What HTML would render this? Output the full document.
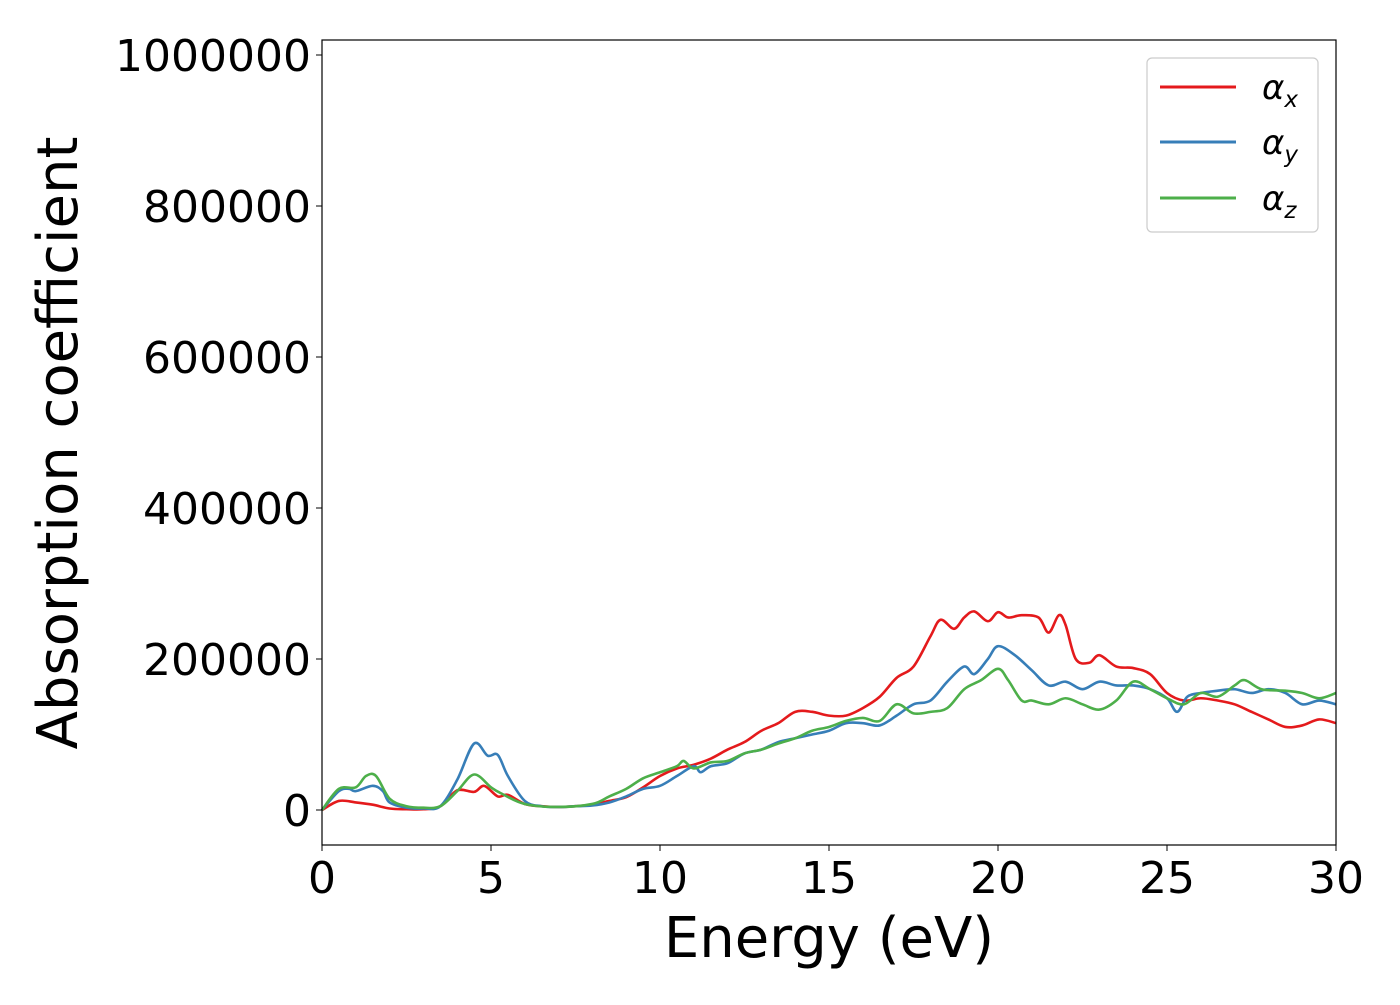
<!DOCTYPE html>
<html><head><meta charset="utf-8"><style>
body{margin:0;background:#fff;}
svg text{font-family:"DejaVu Sans","Liberation Sans",sans-serif;fill:#000;}
</style></head><body>
<svg width="1400" height="1000" id="chart">
<rect width="1400" height="1000" fill="#fff"/>
<g id="series"></g>
<rect x="322" y="40" width="1014" height="805" fill="none" stroke="#000" stroke-width="1.2"/>
<g id="xticks"></g>
<g id="yticks"></g>
<text x="829" y="957" font-size="56" text-anchor="middle">Energy (eV)</text>
<text transform="translate(77,443) rotate(-90)" font-size="56" text-anchor="middle">Absorption coefficient</text>
<g>
<rect x="1147" y="58" width="171" height="174" rx="5" fill="#fff" stroke="#ccc" stroke-width="1.2"/>
<g><line x1="1160" x2="1236" y1="87" y2="87" stroke="#e41a1c" stroke-width="3"/><text x="1262" y="99" font-size="34" font-style="italic">α<tspan font-size="23" dy="8">x</tspan></text></g>
<g><line x1="1160" x2="1236" y1="142" y2="142" stroke="#377eb8" stroke-width="3"/><text x="1262" y="154" font-size="34" font-style="italic">α<tspan font-size="23" dy="8">y</tspan></text></g>
<g><line x1="1160" x2="1236" y1="198" y2="198" stroke="#4daf4a" stroke-width="3"/><text x="1262" y="210" font-size="34" font-style="italic">α<tspan font-size="23" dy="8">z</tspan></text></g>
</g>
</svg>
<script>
const xTicks=[0,5,10,15,20,25,30];
const yTicks=[0,200000,400000,600000,800000,1000000];
const redE=[0,0.5,1,1.5,2,2.5,3,3.5,4,4.5,4.8,5.2,5.5,6,6.5,7,7.5,8,8.5,9,9.5,10,10.5,11,11.5,12,12.5,13,13.5,14,14.5,15,15.5,16,16.5,17,17.5,18,18.3,18.7,19,19.3,19.7,20,20.3,20.7,21.2,21.5,21.8,22,22.3,22.7,23,23.5,24,24.5,25,25.5,26,26.5,27,27.5,28,28.5,29,29.5,30];
const redV=[0,12,10,7,2,1,1,5,26,24,32,18,20,8,5,4,5,7,12,17,30,45,55,60,68,80,90,105,115,130,130,125,125,135,150,175,190,230,252,240,255,263,250,262,255,258,255,235,258,245,200,195,205,190,188,180,155,145,148,145,140,130,120,110,112,120,115];
const blueE=[0,0.5,0.8,1,1.5,1.8,2,2.5,3,3.5,4,4.5,4.9,5.2,5.5,6,6.5,7,7.5,8,8.5,9,9.5,10,10.5,11,11.2,11.5,12,12.5,13,13.5,14,14.5,15,15.5,16,16.5,17,17.5,18,18.5,19,19.3,19.7,20,20.5,21,21.5,22,22.5,23,23.5,24,24.5,25,25.3,25.6,26,26.5,27,27.5,28,28.5,29,29.5,30];
const blueV=[0,25,28,25,32,25,10,3,2,5,40,88,72,73,45,12,5,4,5,6,10,18,28,32,45,58,50,58,62,75,80,90,95,100,105,115,115,112,125,140,145,170,190,180,200,217,205,185,165,170,160,170,165,165,160,148,130,150,155,158,160,155,160,155,140,145,140];
const greenE=[0,0.5,1,1.3,1.6,2,2.5,3,3.5,4,4.5,5,5.3,6,7,8,8.5,9,9.5,10,10.5,10.7,11,11.5,12,12.5,13,13.5,14,14.5,15,15.5,16,16.5,17,17.5,18,18.5,19,19.5,20,20.3,20.7,21,21.5,22,22.5,23,23.5,24,24.5,25,25.5,26,26.5,27,27.3,27.8,28.5,29,29.5,30];
const greenV=[0,28,30,45,45,15,5,3,5,25,47,30,22,8,4,8,18,28,42,50,58,65,55,63,65,75,80,88,95,105,110,118,122,118,140,128,130,135,160,172,187,172,145,145,140,148,140,133,145,170,160,148,140,155,150,165,172,160,158,155,148,155];
const X=e=>322+e*(1014/30);
const Y=v=>810-v*(151/200000);
const NS='http://www.w3.org/2000/svg';
function path(E,V){let p=E.map((e,i)=>[X(e),Y(V[i]*1000)]);let d='M'+p[0][0]+','+p[0][1];
for(let i=0;i<p.length-1;i++){const p0=p[i-1]||p[i],p1=p[i],p2=p[i+1],p3=p[i+2]||p2;
d+=' C'+(p1[0]+(p2[0]-p0[0])/6)+','+(p1[1]+(p2[1]-p0[1])/6)+' '+(p2[0]-(p3[0]-p1[0])/6)+','+(p2[1]-(p3[1]-p1[1])/6)+' '+p2[0]+','+p2[1];}return d;}
const g=document.getElementById('series');
[[redE,redV,'#e41a1c','alpha-x-line'],[blueE,blueV,'#377eb8','alpha-y-line'],[greenE,greenV,'#4daf4a','alpha-z-line']].forEach(s=>{
const el=document.createElementNS(NS,'path');el.setAttribute('d',path(s[0],s[1]));el.setAttribute('fill','none');el.setAttribute('stroke',s[2]);el.setAttribute('stroke-width','2.6');


g.appendChild(el);});
const xg=document.getElementById('xticks');
xTicks.forEach(t=>{const l=document.createElementNS(NS,'line');l.setAttribute('x1',X(t));l.setAttribute('x2',X(t));l.setAttribute('y1',845);l.setAttribute('y2',851);l.setAttribute('stroke','#000');


xg.appendChild(l);const tx=document.createElementNS(NS,'text');tx.setAttribute('x',X(t));tx.setAttribute('y',893);tx.setAttribute('font-size','44');tx.setAttribute('text-anchor','middle');tx.textContent=t;


xg.appendChild(tx);});
const yg=document.getElementById('yticks');
yTicks.forEach(t=>{const l=document.createElementNS(NS,'line');l.setAttribute('x1',316);l.setAttribute('x2',322);l.setAttribute('y1',Y(t));l.setAttribute('y2',Y(t));l.setAttribute('stroke','#000');


yg.appendChild(l);const tx=document.createElementNS(NS,'text');tx.setAttribute('x',311);tx.setAttribute('y',Y(t)+16);tx.setAttribute('font-size','44');tx.setAttribute('text-anchor','end');tx.textContent=t;


yg.appendChild(tx);});
</script>
</body></html>
